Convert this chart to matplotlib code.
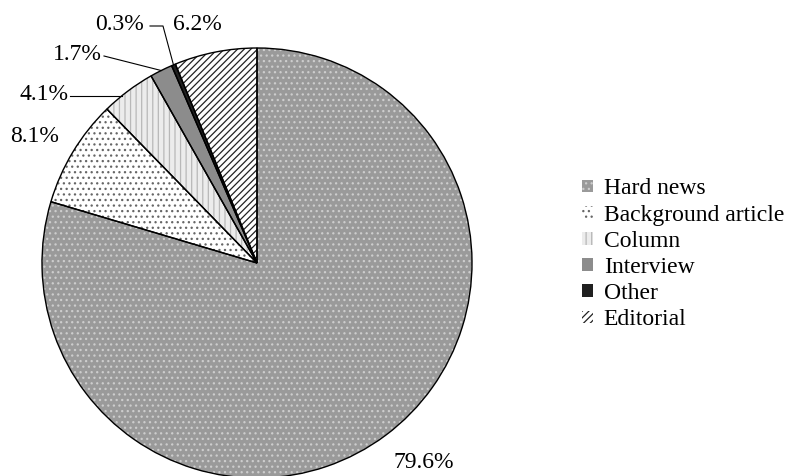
import matplotlib
matplotlib.use("Agg")
import numpy as np
from matplotlib import pyplot as plt
from matplotlib.patches import Patch

# data
categories = ["Hard news", "Background article", "Column", "Interview", "Other", "Editorial"]
shares = [79.6, 8.1, 4.1, 1.7, 0.3, 6.2]
labels = ["79.6%", "8.1%", "4.1%", "1.7%", "0.3%", "6.2%"]

# looks (face, hatch, hatch colour)
faces = ["#9a9a9a", "#ffffff", "#ececec", "#8c8c8c", "#202020", "#ffffff"]
hatches = ["...", "...", "|||", "", "", "/////"]
hcols = ["#cdcdcd", "#666666", "#b8b8b8", "#8c8c8c", "#202020", "#222222"]

plt.rcParams['font.family'] = ['Liberation Serif', 'DejaVu Serif']
plt.rcParams['hatch.linewidth'] = 0.9

fig = plt.figure(figsize=(8.07, 4.76), dpi=100)
# pie centre (257,263) px, radius 215 px
cx, cy, r = 257, 263, 215
ax = fig.add_axes([(cx - r) / 807, (476 - cy - r) / 476, 2 * r / 807, 2 * r / 476])

wedges, _ = ax.pie(shares, startangle=90, counterclock=False, radius=1,
                   colors=faces, wedgeprops=dict(linewidth=0))
for w, h, hc in zip(wedges, hatches, hcols):
    w.set_hatch(h)
    w.set_edgecolor(hc)
    w.set_linewidth(0)
    w.set_clip_on(False)
# outlines on top
outl, _ = ax.pie(shares, startangle=90, counterclock=False, radius=1,
                 wedgeprops=dict(fill=False, edgecolor="black", linewidth=1.0))
for w in outl:
    w.set_clip_on(False)
ax.set_xlim(-1, 1)
ax.set_ylim(-1, 1)
ax.axis("off")

def px(x, y):
    return (x - cx) / r, (cy - y) / r

# mid angles of slices
cum = np.cumsum([0] + shares[:-1])
mids = [np.deg2rad(90 - (c + s / 2) * 3.6) for c, s in zip(cum, shares)]

fs = 17
kw = dict(fontsize=fs, ha="center", va="center", clip_on=False)
# labels without leader lines
ax.text(*px(424, 462), labels[0], **kw)
ax.text(*px(35, 137), labels[1], **kw)
ax.text(*px(197, 25), labels[5], **kw)

# column: horizontal leader
tx, ty = px(70, 96)
ax.text(*px(44, 95), labels[2], **kw)
ax.plot([tx, -np.sqrt(1 - ty ** 2)], [ty, ty], color="black", lw=0.8, clip_on=False)

# interview
ax.text(*px(77, 54), labels[3], **kw)
a = mids[3]
x0, y0 = px(104, 56)
ax.plot([x0, np.cos(a)], [y0, np.sin(a)], color="black", lw=0.8, clip_on=False)

# other
ax.text(*px(119, 24), labels[4], **kw)
a = mids[4]
x0, y0 = px(150, 26)
x1, y1 = px(163, 26)
ax.plot([x0, x1, np.cos(a)], [y0, y1, np.sin(a)], color="black", lw=0.8, clip_on=False)

handles = [Patch(facecolor=f, hatch=h, edgecolor=hc, linewidth=0)
           for f, h, hc in zip(faces, hatches, hcols)]
fig.legend(handles, categories, loc="upper left", bbox_to_anchor=(573 / 807, 1 - 169 / 476),
           frameon=False, fontsize=fs, handlelength=0.45, handleheight=0.45,
           handletextpad=0.45, labelspacing=0.22, borderaxespad=0)

fig.savefig("out.png", dpi=100)
